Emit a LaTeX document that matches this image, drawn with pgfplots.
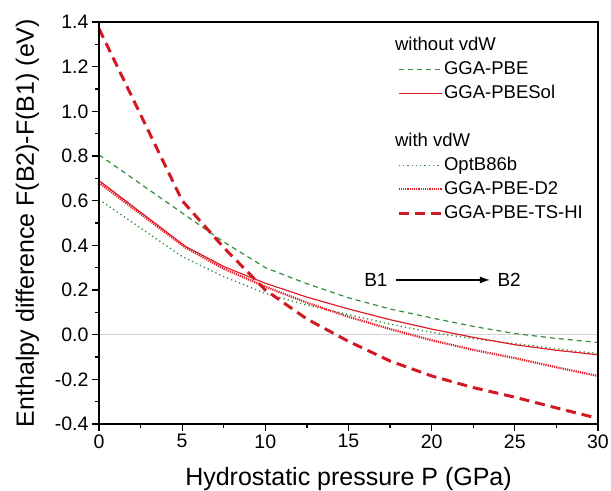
\documentclass[border=0pt]{standalone}
\usepackage{fontspec}
\setmainfont{Liberation Sans}
\usepackage{pgfplots}
\pgfplotsset{compat=1.18}
\usetikzlibrary{arrows.meta}
\definecolor{pgreen}{RGB}{50,140,60}
\definecolor{pred}{RGB}{225,30,40}
\definecolor{pdred}{RGB}{210,25,35}
\begin{document}
\begin{tikzpicture}
\begin{axis}[
  scale only axis, width=499pt, height=402pt,
  xmin=0, xmax=30, ymin=-0.4, ymax=1.4,
  clip=false,
  xtick={0,5,10,15,20,25,30},
  minor xtick={2.5,7.5,12.5,17.5,22.5,27.5},
  ytick={-0.4,-0.2,0,0.2,0.4,0.6,0.8,1.0,1.2,1.4},
  minor ytick={-0.3,-0.1,0.1,0.3,0.5,0.7,0.9,1.1,1.3},
  tick align=outside, xtick pos=bottom, ytick pos=left,
  major tick length=7pt, minor tick length=4pt,
  major tick style={black, line width=1.2pt},
  minor tick style={black, line width=1.2pt},
  axis line style={black, line width=1.6pt},
  axis on top,
  /pgf/number format/assume math mode=true,
  yticklabel style={/pgf/number format/.cd, fixed, fixed zerofill, precision=1},
  ticklabel style={font=\fontsize{19.5}{23}\selectfont},
  label style={font=\fontsize{25}{30}\selectfont},
  xlabel={Hydrostatic pressure P (GPa)},
  ylabel={Enthalpy difference F(B2)-F(B1) (eV)},
  xlabel shift=12pt, ylabel shift=9pt,
  legend cell align=left,
  legend style={at={(rel axis cs:0.597,0.966)}, anchor=north west, draw=none, fill=none,
    font=\fontsize{18.5}{22}\selectfont, inner sep=0pt, row sep=5pt,
    nodes={inner sep=1pt, text height=13.5pt, text depth=3.5pt}},
]
\addplot[gray!35, line width=1pt, forget plot] coordinates {(0,0) (30,0)};
% GGA-PBE
\addplot[pgreen, line width=1.2pt, dash pattern=on 5pt off 4pt, forget plot] coordinates {
(0,0.805) (5,0.545) (7.5,0.415) (10,0.30) (12.5,0.228) (15,0.165) (17.5,0.115) (20,0.075) (22.5,0.037) (25,0.005) (27.5,-0.017) (30,-0.035)};
% OptB86b
\addplot[pgreen, line width=1.3pt, dash pattern=on 1.3pt off 3pt, forget plot] coordinates {
(0,0.605) (5,0.35) (7.5,0.26) (10,0.185) (12.5,0.132) (15,0.09) (17.5,0.047) (20,0.01) (22.5,-0.018) (25,-0.04) (27.5,-0.063) (30,-0.085)};
% GGA-PBESol
\addplot[pred, line width=1.2pt, forget plot] coordinates {
(0,0.69) (5.2,0.395) (7.5,0.305) (10,0.23) (12.5,0.168) (15,0.115) (17.5,0.067) (20,0.025) (22.5,-0.012) (25,-0.045) (27.5,-0.07) (30,-0.09)};
% GGA-PBE-D2
\addplot[pred, line width=2.2pt, dash pattern=on 1.2pt off 1pt, forget plot] coordinates {
(0,0.68) (5.2,0.39) (7.5,0.295) (10,0.215) (12.5,0.143) (15,0.08) (17.5,0.025) (20,-0.025) (22.5,-0.068) (25,-0.105) (27.5,-0.146) (30,-0.185)};
% GGA-PBE-TS-HI
\addplot[pdred, line width=3pt, dash pattern=on 10pt off 6pt, forget plot] coordinates {
(0,1.37) (5,0.60) (7.5,0.39) (10,0.20) (12.5,0.07) (15,-0.03) (17.5,-0.118) (20,-0.185) (22.5,-0.237) (25,-0.28) (27.5,-0.328) (30,-0.375)};

\addlegendimage{empty legend}\addlegendentry{\hspace*{-49pt}without vdW}
\addlegendimage{legend image code/.code={\draw[pgreen, line width=1.2pt, dash pattern=on 5pt off 4pt] (0pt,0pt) -- (43pt,0pt);}}\addlegendentry{GGA-PBE}
\addlegendimage{legend image code/.code={\draw[pred, line width=1.2pt] (0pt,0pt) -- (43pt,0pt);}}\addlegendentry{GGA-PBESol}
\addlegendimage{empty legend}\addlegendentry{}
\addlegendimage{empty legend}\addlegendentry{\hspace*{-49pt}with vdW}
\addlegendimage{legend image code/.code={\draw[pgreen, line width=1.3pt, dash pattern=on 1.3pt off 3pt] (0pt,0pt) -- (43pt,0pt);}}\addlegendentry{OptB86b}
\addlegendimage{legend image code/.code={\draw[pred, line width=2.2pt, dash pattern=on 1.2pt off 1pt] (0pt,0pt) -- (43pt,0pt);}}\addlegendentry{GGA-PBE-D2}
\addlegendimage{legend image code/.code={\draw[pdred, line width=3pt, dash pattern=on 10pt off 6pt] (0pt,0pt) -- (43pt,0pt);}}\addlegendentry{GGA-PBE-TS-HI}

\node[font=\fontsize{19}{22}\selectfont] at (axis cs:16.65,0.247) {B1};
\node[font=\fontsize{19}{22}\selectfont] at (axis cs:24.66,0.247) {B2};
\draw[-{Latex[length=10pt,width=7pt]}, line width=1.2pt] (axis cs:17.86,0.245) -- (axis cs:23.5,0.245);
\draw[black, line width=1.6pt] (rel axis cs:0,0) rectangle (rel axis cs:1,1);
\end{axis}
\pgfresetboundingbox
\path[use as bounding box] ([shift={(-99pt,-67pt)}]current axis.south west) rectangle ([shift={(13pt,22pt)}]current axis.north east);
\end{tikzpicture}
\end{document}
